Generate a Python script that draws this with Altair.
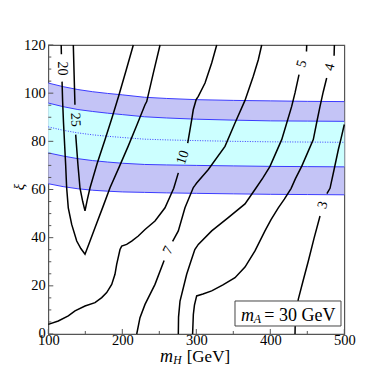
import altair as alt
import pandas as pd

# ---------------- band boundaries (xi vs m_H) ----------------
band_mh   = [100, 120, 140, 160, 180, 200, 230, 260, 300, 350, 400, 450, 500]
outer_top = [104.2, 102.7, 101.5, 100.6, 99.9, 99.3, 98.3, 97.8, 97.3, 97.0, 96.8, 96.6, 96.5]
inner_top = [95.9, 94.4, 93.2, 92.4, 91.7, 91.1, 90.2, 89.7, 89.2, 88.8, 88.5, 88.4, 88.3]
center    = [86.0, 84.6, 83.5, 82.7, 82.1, 81.6, 80.9, 80.6, 80.3, 80.0, 79.8, 79.7, 79.6]
inner_bot = [75.2, 73.9, 72.8, 72.0, 71.4, 70.9, 70.4, 70.2, 70.0, 69.8, 69.6, 69.5, 69.4]
outer_bot = [62.4, 61.2, 60.3, 59.7, 59.3, 59.0, 58.8, 58.6, 58.4, 58.2, 58.0, 57.9, 57.8]

# ---------------- contour segments ----------------
c20a_m  = [117.4, 117.7]
c20a_xi = [120.0, 116.2]
c20b_m  = [118.6, 119.3, 120.5, 122.0, 123.5, 124.8, 127.0, 131.6, 138.4, 144.0, 149.6,
           155.0, 163.1, 174.3, 183.4, 196.0, 208.0, 220.0, 230.7, 233.0, 242.0, 251.0]
c20b_xi = [104.8, 97.0, 88.0, 79.0, 70.0, 60.7, 52.4, 45.5, 38.6, 35.5, 33.1,
           37.5, 44.1, 53.2, 60.7, 69.5, 78.0, 87.0, 95.2, 96.5, 108.4, 120.0]

c25a_m  = [133.8, 134.9, 136.0]
c25a_xi = [120.0, 107.6, 95.2]
c25b_m  = [137.0, 140.0, 142.8, 146.5, 149.6, 152.5, 156.4, 166.0, 176.6, 186.0, 195.0, 205.0, 214.9]
c25b_xi = [82.8, 70.5, 60.7, 55.0, 51.1, 55.5, 60.7, 70.8, 80.7, 89.7, 98.7, 109.3, 120.0]

c10a_m  = [100.0, 113.5, 127.0, 136.1, 149.6, 163.1, 172.2, 178.9, 185.7, 190.1, 192.4,
           196.9, 199.2, 205.9, 212.7, 221.6, 230.7, 244.2, 257.7, 269.5, 275.7]
c10a_xi = [4.0, 5.4, 7.5, 9.6, 11.6, 13.0, 15.1, 17.2, 20.6, 24.8, 28.9,
           35.1, 36.5, 37.2, 38.6, 40.7, 43.4, 46.9, 52.4, 60.5, 66.9]
c10b_m  = [288.4, 293.8, 295.9, 299.8, 302.7, 311.8, 320.8, 327.6]
c10b_xi = [79.3, 89.0, 93.1, 97.3, 98.7, 104.2, 112.5, 120.0]

c7a_m  = [388.4, 383.8, 377.0, 365.8, 352.3, 338.8, 316.0, 300.5, 298.2, 296.0, 284.7, 275.7, 268.0]
c7a_xi = [120.0, 113.9, 107.0, 97.0, 87.6, 77.9, 68.2, 62.7, 61.7, 60.8, 52.4, 42.8, 38.5]
c7b_m  = [256.5, 244.2, 230.7, 223.9, 219.5]
c7b_xi = [30.5, 20.6, 12.3, 6.8, 0.0]

c5a_m  = [449.2, 448.9]
c5a_xi = [120.0, 117.3]
c5b_m  = [438.8, 433.4, 428.9, 422.2, 415.4, 399.6, 390.0, 380.0, 365.8, 343.2, 320.8,
          302.7, 298.0, 292.5, 287.0, 278.0, 276.0, 275.7]
c5b_xi = [107.7, 100.1, 94.5, 87.6, 80.7, 69.6, 64.8, 60.3, 54.0, 48.3, 42.8,
          37.2, 35.1, 30.0, 24.8, 13.7, 7.0, 0.0]

c4a_m  = [486.6, 486.2]
c4a_xi = [120.0, 115.5]
c4b_m  = [476.2, 471.5, 467.2, 462.5, 458.1, 450.0, 442.4, 434.0, 428.0, 419.0, 410.8, 401.0,
          392.8, 379.3, 365.8, 352.3, 336.0, 320.8, 309.0, 300.5, 297.5, 296.0, 295.0]
c4b_xi = [106.3, 100.5, 94.5, 87.5, 80.7, 75.0, 69.6, 64.5, 60.4, 56.0, 52.4, 47.5,
          42.8, 34.5, 27.8, 23.4, 20.4, 17.9, 16.6, 15.8, 12.0, 8.1, 0.0]

c3a_m  = [500.0, 495.5, 491.9, 486.0, 480.7, 476.5]
c3a_xi = [87.0, 81.0, 76.5, 68.0, 60.5, 58.3]
c3b_m  = [467.2, 459.0, 451.4, 444.5, 437.8, 435.2, 433.6, 433.4]
c3b_xi = [49.0, 39.6, 30.3, 22.3, 14.4, 8.0, 3.0, 0.0]

# ---------------- contour labels ----------------
label_text  = ["20", "25", "10", "7", "5", "4", "3"]
label_m     = [118.2, 136.4, 282.0, 262.0, 442.5, 480.8, 471.0]
label_xi    = [110.2, 89.0, 73.3, 34.7, 112.2, 110.8, 53.5]
label_angle = [90, 87, 288, 297, 286, 284, 286]

# ---------------- axis ticks ----------------
x_major = [100, 200, 300, 400, 500]
x_minor = [150, 250, 350, 450]
y_major = [0, 20, 40, 60, 80, 100, 120]
y_minor = [5, 10, 15, 25, 30, 35, 45, 50, 55, 65, 70, 75, 85, 90, 95, 105, 110, 115]

# ---------------- build tables ----------------
bands = pd.DataFrame({"m": band_mh, "ot": outer_top, "it": inner_top, "c": center,
                      "ib": inner_bot, "ob": outer_bot})
segs = [("c20a", c20a_m, c20a_xi), ("c20b", c20b_m, c20b_xi),
        ("c25a", c25a_m, c25a_xi), ("c25b", c25b_m, c25b_xi),
        ("c10a", c10a_m, c10a_xi), ("c10b", c10b_m, c10b_xi),
        ("c7a", c7a_m, c7a_xi), ("c7b", c7b_m, c7b_xi),
        ("c5a", c5a_m, c5a_xi), ("c5b", c5b_m, c5b_xi),
        ("c4a", c4a_m, c4a_xi), ("c4b", c4b_m, c4b_xi),
        ("c3a", c3a_m, c3a_xi), ("c3b", c3b_m, c3b_xi)]
rows = []
for name, ms, xs_ in segs:
    for i, (a, b) in enumerate(zip(ms, xs_)):
        rows.append({"seg": name, "i": i, "m": a, "xi": b})
contours = pd.DataFrame(rows)
labels = pd.DataFrame({"t": label_text, "m": label_m, "xi": label_xi, "a": label_angle})

SERIF = "Liberation Serif, Times New Roman, serif"
W, H = 296, 289
xs = alt.Scale(domain=[100, 500], nice=False, zero=False)
ys = alt.Scale(domain=[0, 120], nice=False, zero=False)
xaxis = alt.Axis(values=x_major, title=None, ticks=False, tickSize=0, domain=False, grid=False,
                 labelFont=SERIF, labelFontSize=14.5, labelColor="black", labelPadding=0,
                 labelFlush=False, labelOverlap=False, format="d")
yaxis = alt.Axis(values=y_major, title=None, ticks=False, tickSize=0, domain=False, grid=False,
                 labelFont=SERIF, labelFontSize=14.5, labelColor="black", labelPadding=3,
                 labelOverlap=False, format="d")

def X(f):
    return alt.X(f, type="quantitative", scale=xs, axis=xaxis)

def Y(f):
    return alt.Y(f, type="quantitative", scale=ys, axis=yaxis)

base_b = alt.Chart(bands)
outer_area = base_b.mark_area(color="#c4c4f6", opacity=1).encode(x=X("m"), y=Y("ob"), y2="ot")
inner_area = base_b.mark_area(color="#ccffff", opacity=1).encode(x=X("m"), y=Y("ib"), y2="it")
edge_lines = [base_b.mark_line(color="#3b3bff", strokeWidth=1).encode(x=X("m"), y=Y(f))
              for f in ["ot", "it", "ib", "ob"]]
center_line = base_b.mark_line(color="#3b3bff", strokeWidth=1, strokeDash=[1, 1.5]).encode(
    x=X("m"), y=Y("c"))

contour_lines = alt.Chart(contours).mark_line(color="black", strokeWidth=1.5).encode(
    x=X("m"), y=Y("xi"), detail="seg:N", order="i:Q")

label_marks = alt.Chart(labels).mark_text(font=SERIF, fontSize=14, color="black",
                                          align="center", baseline="middle").encode(
    x=X("m"), y=Y("xi"), text="t:N", angle=alt.Angle("a:Q", scale=None))

one = pd.DataFrame({"k": [0]})
legend_box = alt.Chart(one).mark_rect(fill="white", stroke="#444", strokeWidth=1).encode(
    x=alt.value(186.7), x2=alt.value(292.7), y=alt.value(256), y2=alt.value(281))

def txt(s, x, y, size, italic=False, angle=0, align="left", baseline="alphabetic"):
    kw = dict(font=SERIF, fontSize=size, color="black", align=align, baseline=baseline)
    if italic:
        kw["fontStyle"] = "italic"
    if angle:
        kw["angle"] = angle
    return alt.Chart(one).mark_text(**kw).encode(x=alt.value(x), y=alt.value(y), text=alt.value(s))

legend_txt = [txt("m", 192.7, 276, 18, True), txt("A", 205.5, 278, 12, True),
              txt("= 30 GeV", 216.0, 276, 18)]
xtitle = [txt("m", 111.7, 317, 18, True), txt("H", 125.0, 319, 11.5, True),
          txt("[GeV]", 138.4, 317, 17)]
ytitle = [txt("ξ", -29, 142, 15, True, angle=270, align="center", baseline="middle")]

tick_col = "#555555"
yt_major = alt.Chart(pd.DataFrame({"v": y_major})).mark_rule(color=tick_col, strokeWidth=1).encode(
    y=Y("v"), x=alt.value(0), x2=alt.value(5))
yt_minor = alt.Chart(pd.DataFrame({"v": y_minor})).mark_rule(color=tick_col, strokeWidth=1).encode(
    y=Y("v"), x=alt.value(0), x2=alt.value(3))
xt_major = alt.Chart(pd.DataFrame({"v": x_major})).mark_rule(color=tick_col, strokeWidth=1).encode(
    x=X("v"), y=alt.value(H), y2=alt.value(H - 5))
xt_minor = alt.Chart(pd.DataFrame({"v": x_minor})).mark_rule(color=tick_col, strokeWidth=1).encode(
    x=X("v"), y=alt.value(H), y2=alt.value(H - 3))

chart = alt.layer(
    outer_area, inner_area, *edge_lines, center_line, contour_lines,
    legend_box, *legend_txt, label_marks,
    yt_major, yt_minor, xt_major, xt_minor, *xtitle, *ytitle
).properties(
    width=W, height=H,
    autosize=alt.AutoSizeParams(type="none"),
    padding={"left": 40.3, "top": 37, "right": 20, "bottom": 40},
    background="white",
).configure_view(stroke="#555555", strokeWidth=1.2)

chart.save("out.html", embed_options={"renderer": "svg", "actions": False})
